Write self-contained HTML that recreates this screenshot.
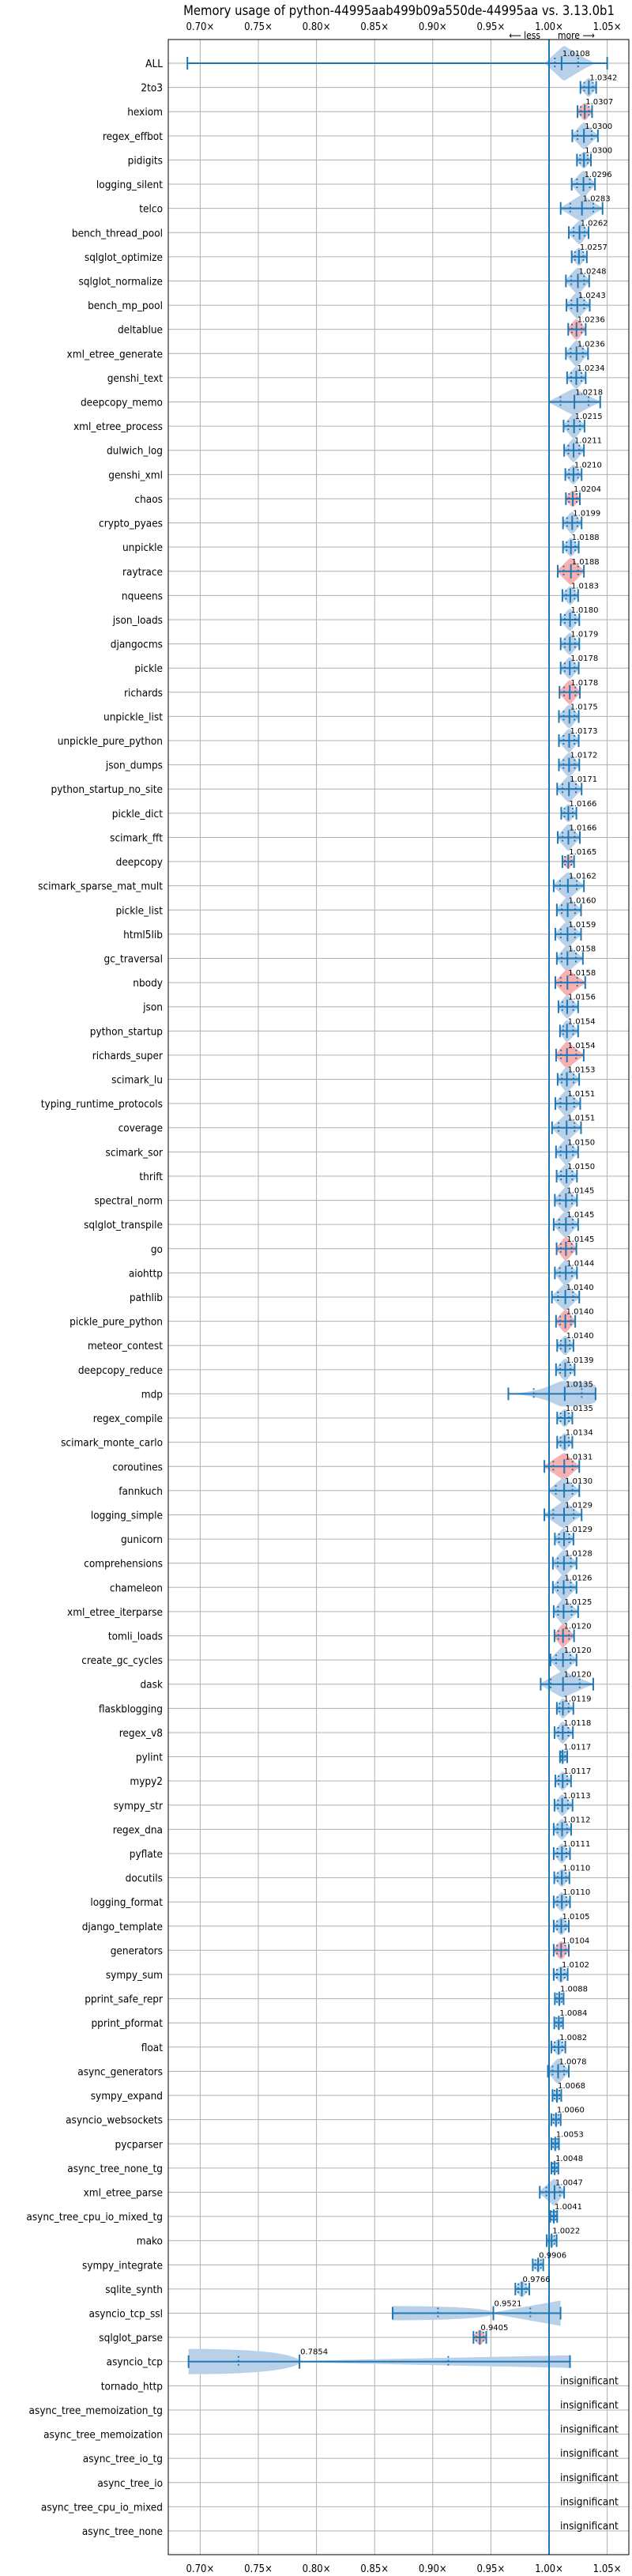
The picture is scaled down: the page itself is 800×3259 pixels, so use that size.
<!DOCTYPE html>
<html><head><meta charset="utf-8"><style>
html,body{margin:0;padding:0;background:#fff;}
svg{display:block;}
.cond{font-family:"DejaVu Sans Condensed","DejaVu Sans","Liberation Sans",sans-serif;font-stretch:condensed;}
.val{font-family:"DejaVu Sans","Liberation Sans",sans-serif;font-size:10px;fill:#000;}
</style></head><body>
<svg id="chart" width="800" height="3259" viewBox="0 0 800 3259" xmlns="http://www.w3.org/2000/svg">
<text class="cond" x="505" y="19" text-anchor="middle" font-size="16.5">Memory usage of python-44995aab499b09a550de-44995aa vs. 3.13.0b1</text>
<g id="grid"></g>
<g id="marks"></g>
<g id="labels"></g>
<rect x="213" y="50" width="583" height="3182" fill="none" stroke="#000" stroke-width="1"/>
<text class="cond" x="684" y="49" text-anchor="end" font-size="12">⟵ less</text>
<text class="cond" x="706" y="49" font-size="12">more ⟶</text>
</svg>
<script>
const benchmarks = ["ALL","2to3","hexiom","regex_effbot","pidigits","logging_silent","telco","bench_thread_pool","sqlglot_optimize","sqlglot_normalize","bench_mp_pool","deltablue","xml_etree_generate","genshi_text","deepcopy_memo","xml_etree_process","dulwich_log","genshi_xml","chaos","crypto_pyaes","unpickle","raytrace","nqueens","json_loads","djangocms","pickle","richards","unpickle_list","unpickle_pure_python","json_dumps","python_startup_no_site","pickle_dict","scimark_fft","deepcopy","scimark_sparse_mat_mult","pickle_list","html5lib","gc_traversal","nbody","json","python_startup","richards_super","scimark_lu","typing_runtime_protocols","coverage","scimark_sor","thrift","spectral_norm","sqlglot_transpile","go","aiohttp","pathlib","pickle_pure_python","meteor_contest","deepcopy_reduce","mdp","regex_compile","scimark_monte_carlo","coroutines","fannkuch","logging_simple","gunicorn","comprehensions","chameleon","xml_etree_iterparse","tomli_loads","create_gc_cycles","dask","flaskblogging","regex_v8","pylint","mypy2","sympy_str","regex_dna","pyflate","docutils","logging_format","django_template","generators","sympy_sum","pprint_safe_repr","pprint_pformat","float","async_generators","sympy_expand","asyncio_websockets","pycparser","async_tree_none_tg","xml_etree_parse","async_tree_cpu_io_mixed_tg","mako","sympy_integrate","sqlite_synth","asyncio_tcp_ssl","sqlglot_parse","asyncio_tcp","tornado_http","async_tree_memoization_tg","async_tree_memoization","async_tree_io_tg","async_tree_io","async_tree_cpu_io_mixed","async_tree_none"];
const medians = [1.0108,1.0342,1.0307,1.0300,1.0300,1.0296,1.0283,1.0262,1.0257,1.0248,1.0243,1.0236,1.0236,1.0234,1.0218,1.0215,1.0211,1.0210,1.0204,1.0199,1.0188,1.0188,1.0183,1.0180,1.0179,1.0178,1.0178,1.0175,1.0173,1.0172,1.0171,1.0166,1.0166,1.0165,1.0162,1.0160,1.0159,1.0158,1.0158,1.0156,1.0154,1.0154,1.0153,1.0151,1.0151,1.0150,1.0150,1.0145,1.0145,1.0145,1.0144,1.0140,1.0140,1.0140,1.0139,1.0135,1.0135,1.0134,1.0131,1.0130,1.0129,1.0129,1.0128,1.0126,1.0125,1.0120,1.0120,1.0120,1.0119,1.0118,1.0117,1.0117,1.0113,1.0112,1.0111,1.0110,1.0110,1.0105,1.0104,1.0102,1.0088,1.0084,1.0082,1.0078,1.0068,1.0060,1.0053,1.0048,1.0047,1.0041,1.0022,0.9906,0.9766,0.9521,0.9405,0.7854,null,null,null,null,null,null,null];
const lows = [0.6890,1.0270,1.0245,1.0200,1.0240,1.0195,1.0100,1.0170,1.0195,1.0145,1.0150,1.0165,1.0145,1.0155,1.0000,1.0125,1.0130,1.0140,1.0145,1.0120,1.0120,1.0075,1.0115,1.0100,1.0100,1.0100,1.0090,1.0085,1.0085,1.0085,1.0070,1.0105,1.0075,1.0115,1.0040,1.0067,1.0054,1.0067,1.0054,1.0081,1.0094,1.0061,1.0074,1.0054,1.0026,1.0060,1.0065,1.0050,1.0040,1.0065,1.0050,1.0025,1.0060,1.0070,1.0060,0.9650,1.0070,1.0070,0.9960,1.0000,0.9960,1.0050,1.0033,1.0033,1.0040,1.0047,1.0012,0.9928,1.0067,1.0047,1.0094,1.0054,1.0047,1.0040,1.0040,1.0045,1.0040,1.0040,1.0040,1.0040,1.0050,1.0045,1.0020,0.9990,1.0030,1.0020,1.0020,1.0020,0.9920,1.0010,0.9980,0.9860,0.9710,0.8655,0.9350,0.6900,null,null,null,null,null,null,null];
const highs = [1.0500,1.0405,1.0370,1.0420,1.0360,1.0395,1.0460,1.0340,1.0325,1.0345,1.0350,1.0315,1.0335,1.0315,1.0440,1.0305,1.0300,1.0280,1.0265,1.0280,1.0255,1.0300,1.0250,1.0260,1.0260,1.0255,1.0265,1.0255,1.0255,1.0260,1.0280,1.0235,1.0265,1.0215,1.0300,1.0275,1.0275,1.0291,1.0311,1.0250,1.0250,1.0298,1.0259,1.0268,1.0275,1.0250,1.0240,1.0240,1.0250,1.0235,1.0240,1.0260,1.0225,1.0210,1.0220,1.0400,1.0200,1.0200,1.0260,1.0260,1.0280,1.0210,1.0236,1.0236,1.0250,1.0215,1.0236,1.0380,1.0209,1.0205,1.0156,1.0189,1.0202,1.0190,1.0180,1.0175,1.0180,1.0170,1.0170,1.0160,1.0125,1.0120,1.0140,1.0170,1.0105,1.0100,1.0085,1.0080,1.0130,1.0070,1.0065,0.9950,0.9830,1.0099,0.9460,1.0180,null,null,null,null,null,null,null];
const worse = ["hexiom","deltablue","chaos","raytrace","richards","deepcopy","nbody","richards_super","go","pickle_pure_python","coroutines","tomli_loads","generators","sqlglot_parse"];
const tickValues = [0.70,0.75,0.80,0.85,0.90,0.95,1.00,1.05];
const tickLabels = ["0.70×","0.75×","0.80×","0.85×","0.90×","0.95×","1.00×","1.05×"];

const NS="http://www.w3.org/2000/svg";
const X0=213,X1=796,Y0=50,Y1=3232;
function xScale(v){return 695+(v-1)*1472;}
function yScale(i){return 80+i*(3202-80)/(benchmarks.length-1);}
function mk(tag,attrs,parent){const e=document.createElementNS(NS,tag);for(const k in attrs)e.setAttribute(k,attrs[k]);parent.appendChild(e);return e;}
const grid=document.getElementById('grid'),marks=document.getElementById('marks'),labels=document.getElementById('labels');

tickValues.forEach((t,i)=>{
  const x=xScale(t);
  const gl=mk('line',{x1:x,x2:x,y1:Y0,y2:Y1,stroke:'#b0b0b0','stroke-width':1},grid);
  
  
  const tt=mk('text',{x:x,y:38,'text-anchor':'middle','font-size':13,class:'cond'},labels);
  tt.textContent=tickLabels[i];
  
  
  const tb=mk('text',{x:x,y:3254,'text-anchor':'middle','font-size':13,class:'cond'},labels);
  tb.textContent=tickLabels[i];
  
  
});
benchmarks.forEach((b,i)=>{
  const y=yScale(i);
  const gl=mk('line',{x1:X0,x2:X1,y1:y,y2:y,stroke:'#b0b0b0','stroke-width':1},grid);
  
  
  const t=mk('text',{x:206,y:y+5,'text-anchor':'end','font-size':13.5,class:'cond'},labels);
  t.textContent=b;
  
  
});

const blue='#1f77b4';
function diamond(a,m,c,y,h){
  return `M${a},${y} C${a+(m-a)*0.5},${y-h*0.5} ${m-2},${y-h} ${m},${y-h} C${m+2},${y-h} ${c-(c-m)*0.5},${y-h*0.4} ${c},${y} C${c-(c-m)*0.5},${y+h*0.4} ${m+2},${y+h} ${m},${y+h} C${m-2},${y+h} ${a+(m-a)*0.5},${y+h*0.5} ${a},${y} Z`;
}
benchmarks.forEach((b,i)=>{
  const y=yScale(i), m=medians[i];
  if(m===null){
    const t=mk('text',{x:709,y:y-2,'font-size':13.5,class:'cond'},labels);
    t.textContent='insignificant';
    
    
    return;
  }
  const xl=xScale(lows[i]),xh=xScale(highs[i]),xm=xScale(m);
  const fill=worse.includes(b)?'#f8b0b0':'#b9d1e8';
  let d;
  if(b==='asyncio_tcp_ssl'||b==='asyncio_tcp'){
    const hl=b==='asyncio_tcp'?16:9, hr=b==='asyncio_tcp'?8:16;
    d=`M${xl},${y-hl} C${xm},${y-hl} ${xm},${y-1} ${xm},${y-1} C${xm},${y-1} ${xh},${y-hr} ${xh},${y-hr} L${xh},${y+hr} C${xh},${y+hr} ${xm},${y+1} ${xm},${y+1} C${xm},${y+1} ${xm},${y+hl} ${xl},${y+hl} Z`;
  } else if(i===0){
    d=diamond(xScale(0.996),xScale(1.013),xScale(1.040),y,22);
  } else if(b==='mdp'){
    d=`M${xl},${y} C${xScale(1.0)},${y-3} ${xScale(1.005)},${y-16} ${xScale(1.012)},${y-16} C${xScale(1.03)},${y-16} ${xh},${y-12} ${xh},${y-10} L${xh},${y+10} C${xh},${y+12} ${xScale(1.03)},${y+16} ${xScale(1.012)},${y+16} C${xScale(1.005)},${y+16} ${xScale(1.0)},${y+3} ${xl},${y} Z`;
  } else {
    const h=Math.min(17,Math.max(8,(xh-xl)*0.6));
    d=diamond(xl-2,xm,xh+2,y,h);
  }
  const v=mk('path',{d:d,fill:fill,stroke:'none'},marks);
  
  
  const ln=mk('line',{x1:xl,x2:xh,y1:y,y2:y,stroke:blue,'stroke-width':2},marks);
  
  
  [xl,xh].forEach(x=>{
    const c=mk('line',{x1:x,x2:x,y1:y-8,y2:y+8,stroke:blue,'stroke-width':2},marks);
    
    
  });
  const med=mk('line',{x1:xm,x2:xm,y1:y-9,y2:y+9,stroke:blue,'stroke-width':2},marks);
  
  
  const q1=(i===0)?xScale(1.005):xl+(xm-xl)*0.45, q3=(i===0)?xScale(1.025):xm+(xh-xm)*0.55;
  [q1,q3].forEach(x=>{
    const q=mk('line',{x1:x,x2:x,y1:y-7,y2:y+7,stroke:blue,'stroke-width':2,'stroke-dasharray':'2,3'},marks);
    
    
  });
  const t=mk('text',{x:xm+1,y:y-9,class:'val'},labels);
  t.textContent=m.toFixed(4);
  
  
});
const ref=mk('line',{x1:695,x2:695,y1:Y0,y2:Y1,stroke:blue,'stroke-width':2},marks);


</script>
</body></html>
